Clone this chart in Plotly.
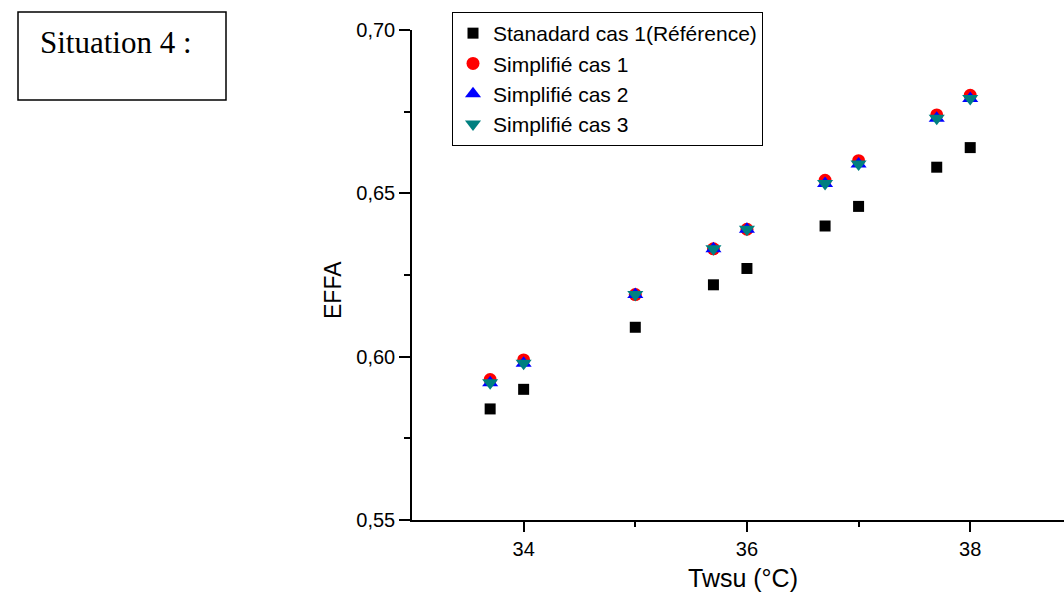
import plotly.graph_objects as go

twsu = [33.7, 34.0, 35.0, 35.7, 36.0, 36.7, 37.0, 37.7, 38.0]
standard_cas1 = [0.584, 0.590, 0.609, 0.622, 0.627, 0.640, 0.646, 0.658, 0.664]
simplifie_cas1 = [0.593, 0.599, 0.619, 0.633, 0.639, 0.654, 0.660, 0.674, 0.680]
simplifie_cas2 = [0.592, 0.598, 0.619, 0.633, 0.639, 0.653, 0.659, 0.673, 0.679]
simplifie_cas3 = [0.592, 0.598, 0.619, 0.633, 0.639, 0.653, 0.659, 0.673, 0.679]

x_ticks = [34, 36, 38]
y_ticks = [0.55, 0.60, 0.65, 0.70]

fig = go.Figure()
fig.add_trace(go.Scatter(x=twsu, y=standard_cas1, mode="markers",
                         name="Stanadard cas 1(Référence)",
                         marker=dict(symbol="square", size=11, color="black")))
fig.add_trace(go.Scatter(x=twsu, y=simplifie_cas1, mode="markers",
                         name="Simplifié cas 1",
                         marker=dict(symbol="circle", size=13, color="#ff0000")))
fig.add_trace(go.Scatter(x=twsu, y=simplifie_cas2, mode="markers",
                         name="Simplifié cas 2",
                         marker=dict(symbol="triangle-up", size=14, color="#0000ff")))
fig.add_trace(go.Scatter(x=twsu, y=simplifie_cas3, mode="markers",
                         name="Simplifié cas 3",
                         marker=dict(symbol="triangle-down", size=14, color="#008080")))

sans = "Liberation Sans, Arial"
axis_font = dict(family=sans, size=20, color="black")

L, T, B = 412, 30, 73
W, H = 1064 - L, 593 - T - B

fig.update_layout(
    width=1064, height=593,
    margin=dict(l=L, r=0, t=T, b=B),
    paper_bgcolor="white", plot_bgcolor="white",
    separators=", ",
    showlegend=True,
    legend=dict(x=(452 - L) / W, y=(520 - 12) / H, xanchor="left", yanchor="top",
                bordercolor="black", borderwidth=1, bgcolor="white",
                font=dict(family=sans, size=21, color="black"),
                tracegroupgap=0),
    xaxis=dict(range=[33, 38.84], tickvals=x_ticks, ticks="outside", ticklen=10,
               tickwidth=1.5, tickcolor="black", showline=True, linecolor="black",
               linewidth=1.5, showgrid=False, zeroline=False, tickfont=axis_font,
               minor=dict(tickvals=[35, 37, 39], ticks="outside", ticklen=5,
                          tickwidth=1.5, tickcolor="black", showgrid=False)),
    yaxis=dict(range=[0.55, 0.70], tickvals=y_ticks, tickformat=".2f", ticks="outside",
               ticklen=11, tickwidth=1.5, tickcolor="black", showline=True,
               linecolor="black", linewidth=1.5, showgrid=False, zeroline=False,
               tickfont=axis_font,
               minor=dict(tickvals=[0.575, 0.625, 0.675], ticks="outside", ticklen=6,
                          tickwidth=1.5, tickcolor="black", showgrid=False)),
)

fig.add_annotation(text="Twsu (°C)", xref="paper", yref="paper",
                   x=(743 - L) / W, y=(520 - 578) / H, xanchor="center", yanchor="middle",
                   showarrow=False, font=dict(family=sans, size=25, color="black"))
fig.add_annotation(text="EFFA", xref="paper", yref="paper", textangle=-90,
                   x=(333 - L) / W, y=(520 - 290) / H, xanchor="center", yanchor="middle",
                   showarrow=False, font=dict(family=sans, size=23, color="black"))

fig.add_shape(type="rect", xref="paper", yref="paper",
              x0=(18 - L) / W, x1=(226 - L) / W,
              y0=(520 - 100) / H, y1=(520 - 12) / H,
              line=dict(color="black", width=1.5), fillcolor="white")
fig.add_annotation(text="Situation 4 :", xref="paper", yref="paper",
                   x=(38 - L) / W, y=(520 - 43) / H, xanchor="left", yanchor="middle",
                   showarrow=False,
                   font=dict(family="Liberation Serif, Times New Roman", size=31, color="black"))

fig.write_html("out.html")
